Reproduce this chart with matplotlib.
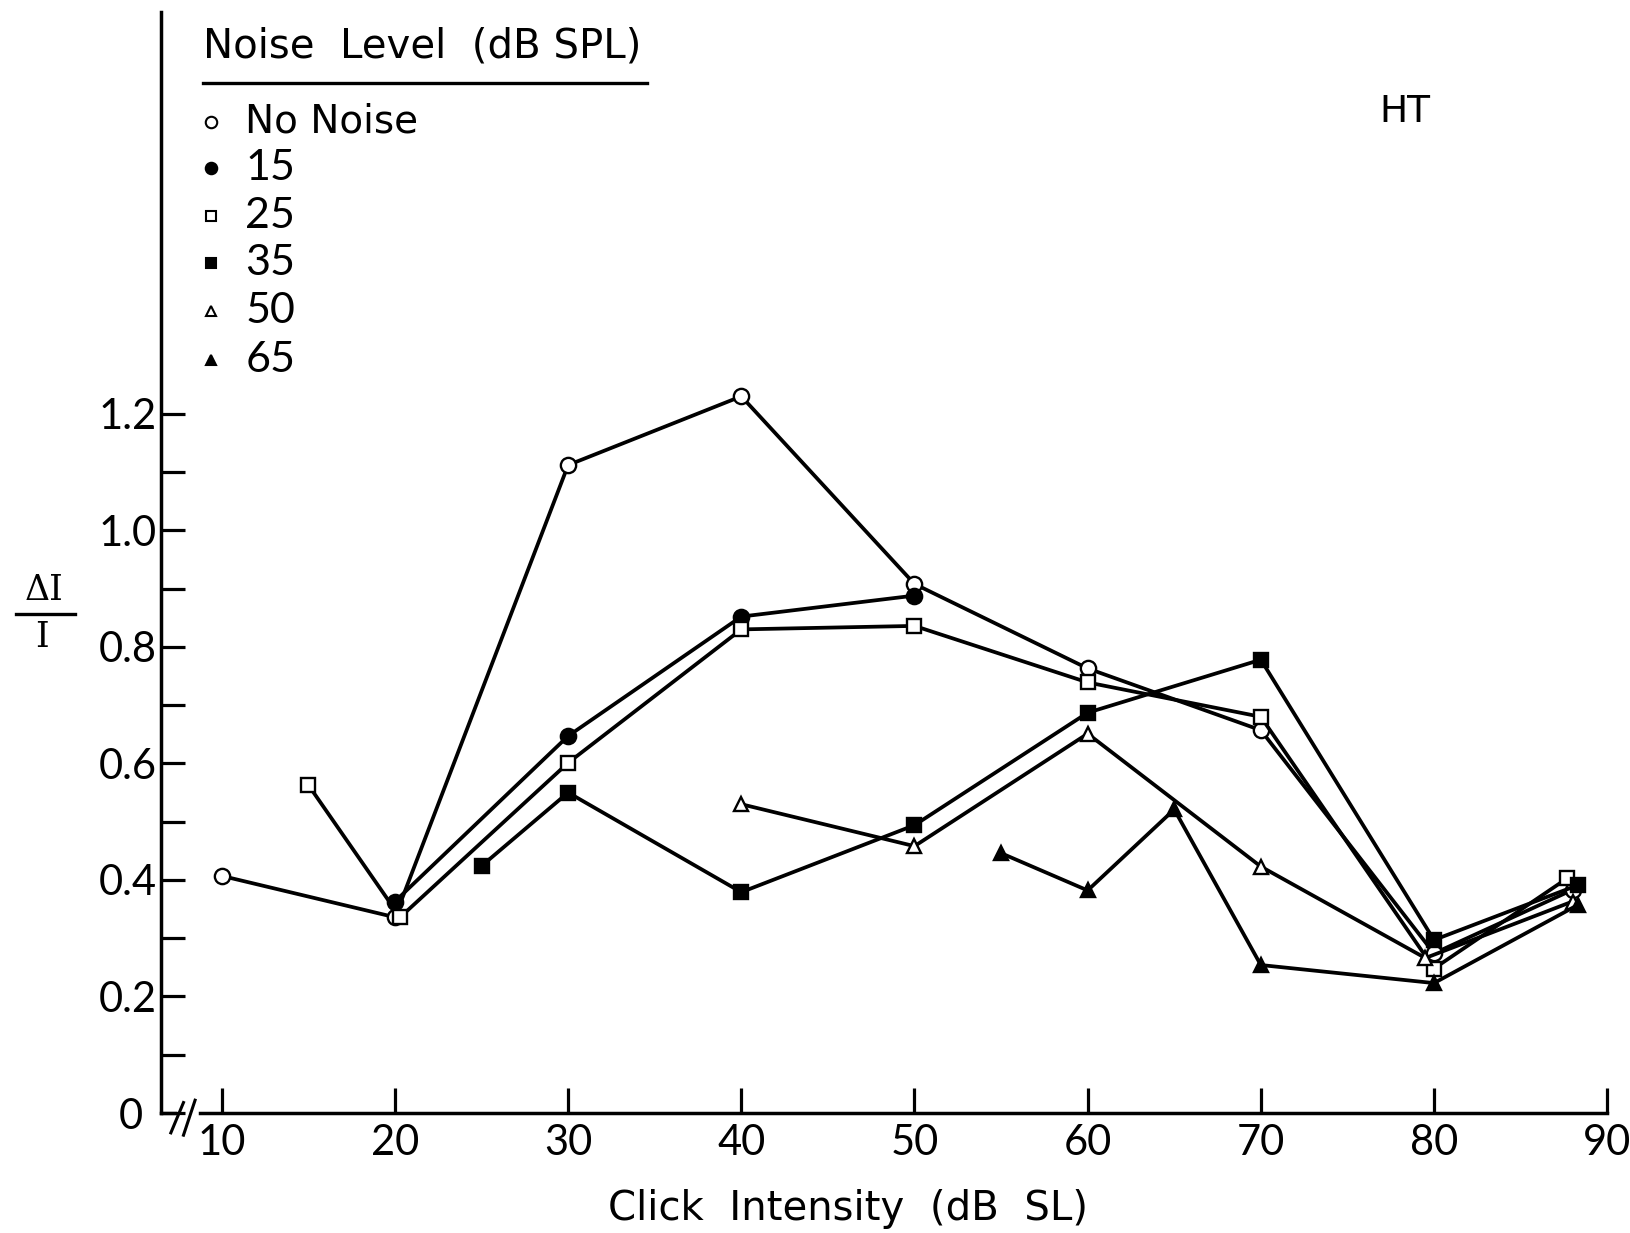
import matplotlib
matplotlib.use('Agg')
import matplotlib.pyplot as plt
import matplotlib.transforms as mtransforms
from matplotlib.lines import Line2D
from matplotlib.ticker import FixedLocator

# values (click intensity in dB SL, delta I / I)
nn_x = [10, 20, 30, 40, 50, 60, 70, 80, 88]
nn_y = [0.407, 0.336, 1.112, 1.230, 0.908, 0.763, 0.657, 0.274, 0.383]

n15_x = [20, 30, 40, 50]
n15_y = [0.363, 0.647, 0.852, 0.888]

n25_x = [15, 20.3, 30, 40, 50, 60, 70, 80, 87.7]
n25_y = [0.563, 0.336, 0.601, 0.830, 0.836, 0.739, 0.680, 0.248, 0.403]

n35_x = [25, 30, 40, 50, 60, 70, 80, 88.3]
n35_y = [0.424, 0.550, 0.379, 0.494, 0.687, 0.778, 0.297, 0.391]

n50_x = [40, 50, 60, 70, 79.5, 88]
n50_y = [0.530, 0.458, 0.651, 0.423, 0.266, 0.363]

n65_x = [55, 60, 65, 70, 80, 88.3]
n65_y = [0.446, 0.382, 0.521, 0.254, 0.223, 0.357]

labels = ["No Noise", "15", "25", "35", "50", "65"]
x_ticks = [10, 20, 30, 40, 50, 60, 70, 80, 90]
y_ticks = [0, 0.2, 0.4, 0.6, 0.8, 1.0, 1.2]
y_ticklabels = ["0", "0.2", "0.4", "0.6", "0.8", "1.0", "1.2"]

word_font = 'DejaVu Sans'
num_font = 'Lato'

series = [
    (nn_x, nn_y, 'o', 'white', 11),
    (n15_x, n15_y, 'o', 'black', 11),
    (n25_x, n25_y, 's', 'white', 9.5),
    (n35_x, n35_y, 's', 'black', 9.5),
    (n50_x, n50_y, '^', 'white', 10.5),
    (n65_x, n65_y, '^', 'black', 10.5),
]

fig = plt.figure(figsize=(16.31, 12.33), dpi=100)
ax = fig.add_axes([0.0988, 0.0973, 0.8866, 0.8927])

for xs, ys, m, fc, ms in series:
    ax.plot(xs, ys, color='black', linewidth=2.7, marker=m, markersize=ms,
            markerfacecolor=fc, markeredgecolor='black', markeredgewidth=1.7,
            clip_on=False, zorder=3)

ax.set_xlim(6.5, 90)
ax.set_ylim(0, 1.889)

ax.spines['top'].set_visible(False)
ax.spines['right'].set_visible(False)
ax.spines['left'].set_linewidth(2.5)
ax.spines['bottom'].set_linewidth(2.5)
ax.spines['bottom'].set_bounds(8.75, 90)

# axis break near the origin
ax.plot([6.5, 7.3], [0, 0], color='black', linewidth=2.5, clip_on=False)
ax.plot([7.06, 7.79], [-0.034, 0.018], color='black', linewidth=2.2, clip_on=False)
ax.plot([7.79, 8.46], [-0.038, 0.022], color='black', linewidth=2.2, clip_on=False)

ax.xaxis.set_major_locator(FixedLocator(x_ticks))
ax.set_xticklabels([str(v) for v in x_ticks], fontsize=30, family=num_font)
ax.yaxis.set_major_locator(FixedLocator(y_ticks))
ax.set_yticklabels(y_ticklabels, fontsize=30, family=num_font)
ax.yaxis.set_minor_locator(FixedLocator([0.1, 0.3, 0.5, 0.7, 0.9, 1.1]))

ax.tick_params(axis='x', direction='in', length=18, width=2.3, pad=8)
ax.tick_params(axis='y', which='both', direction='in', length=17, width=2.3, pad=3)

# the "0" sits a little further left of the axis break
zero_lab = ax.get_yticklabels()[0]
zero_lab.set_transform(zero_lab.get_transform() +
                       mtransforms.ScaledTranslation(-10 / 72, 0, fig.dpi_scale_trans))

ax.set_xlabel("Click  Intensity  (dB  SL)", fontsize=29, family=word_font)
ax.xaxis.set_label_coords(0.475, -0.087)
ax.xaxis.label.set_va('center')

# y label drawn as a fraction
fig.text(0.0268, 0.5215, "ΔI", fontsize=25, family='DejaVu Serif',
         ha='center', va='center')
fig.add_artist(Line2D([0.0096, 0.046], [0.502, 0.502], color='black',
                      linewidth=2.4, transform=fig.transFigure))
fig.text(0.0255, 0.4837, "I", fontsize=25, family='DejaVu Serif',
         ha='center', va='center')

ax.text(78.3, 1.718, "HT", fontsize=27, family=word_font, ha='center', va='center')

# legend block
ax.text(0.029, 0.9686, "Noise  Level  (dB SPL)", fontsize=29, family=word_font,
        ha='left', va='center', transform=ax.transAxes)
ax.plot([0.029, 0.336], [0.936, 0.936], color='black', linewidth=2.4,
        transform=ax.transAxes, clip_on=False)

row_y = [0.9008, 0.8583, 0.8147, 0.7722, 0.7287, 0.6842]
for (xs, ys, m, fc, ms), lab, yy in zip(series, labels, row_y):
    ax.plot([0.0346], [yy], linestyle='none', marker=m, markersize=ms * 0.75,
            markerfacecolor=fc, markeredgecolor='black', markeredgewidth=1.5,
            transform=ax.transAxes, clip_on=False)
    if lab == "No Noise":
        ax.text(0.0581, yy, lab, fontsize=28, family=word_font,
                ha='left', va='center', transform=ax.transAxes)
    else:
        ax.text(0.0581, yy, lab, fontsize=31, family=num_font,
                ha='left', va='center', transform=ax.transAxes)

fig.savefig('out.png', dpi=100)
